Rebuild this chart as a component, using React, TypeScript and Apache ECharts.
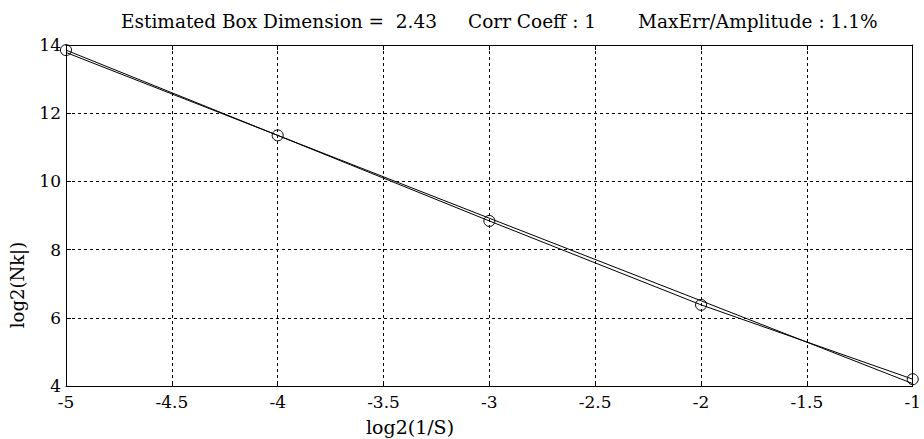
import React, { useEffect, useRef } from "react";
import * as echarts from "echarts";

const xValues = [-5, -4, -3, -2, -1];
const dataY = [13.85, 11.35, 8.84, 6.38, 4.2];
const fitY = [13.78, 11.35, 8.92, 6.5, 4.07];
const titleParts = ["Estimated Box Dimension =  2.43", "Corr Coeff : 1", "MaxErr/Amplitude : 1.1%"];
const xName = "log2(1/S)";
const yName = "log2(Nk|)";

const FONT = "'DejaVu Serif', 'Liberation Serif', serif";

export default function App() {
  const ref = useRef<HTMLDivElement>(null);
  useEffect(() => {
    if (!ref.current) return;
    const chart = echarts.init(ref.current, undefined, { renderer: "svg" });
    const axisLine = { show: true, onZero: false, lineStyle: { color: "#000", width: 1 } };
    const axisTick = { show: true, inside: true, length: 5, lineStyle: { color: "#000" } };
    const split = { show: true, lineStyle: { color: "#000", type: [3, 3] as any, width: 1 } };
    chart.setOption({
      animation: false,
      backgroundColor: "#fff",
      grid: { left: 66, right: 6, top: 45, bottom: 53 },
      xAxis: [
        {
          type: "value", min: -5, max: -1, interval: 0.5, position: "bottom",
          axisLine, axisTick, splitLine: split,
          axisLabel: { color: "#000", fontFamily: FONT, fontSize: 17, margin: 7 },
        },
        {
          type: "value", min: -5, max: -1, interval: 0.5, position: "top",
          axisLine, axisTick, splitLine: { show: false }, axisLabel: { show: false },
        },
      ],
      yAxis: [
        {
          type: "value", min: 4, max: 14, interval: 2, position: "left",
          axisLine, axisTick, splitLine: split,
          axisLabel: { color: "#000", fontFamily: FONT, fontSize: 17, margin: 5 },
        },
        {
          type: "value", min: 4, max: 14, interval: 2, position: "right",
          axisLine, axisTick, splitLine: { show: false }, axisLabel: { show: false },
        },
      ],
      series: [
        {
          type: "line",
          data: xValues.map((x, i) => [x, fitY[i]]),
          showSymbol: false,
          symbol: "none",
          lineStyle: { color: "#000", width: 1 },
          clip: false,
          z: 2,
        },
        {
          type: "line",
          data: xValues.map((x, i) => [x, dataY[i]]),
          symbol: "circle",
          symbolSize: 11,
          itemStyle: { color: "rgba(255,255,255,0)", borderColor: "#000", borderWidth: 1 },
          lineStyle: { color: "#000", width: 1 },
          clip: false,
          z: 3,
        },
      ],
      graphic: [
        { type: "text", left: 121, top: 12, style: { text: titleParts[0], font: `18.5px ${FONT}`, fill: "#000" } },
        { type: "text", left: 468, top: 12, style: { text: titleParts[1], font: `18.5px ${FONT}`, fill: "#000" } },
        { type: "text", left: 638, top: 12, style: { text: titleParts[2], font: `18.5px ${FONT}`, fill: "#000" } },
        {
          type: "text", x: 410, y: 427,
          style: { text: xName, font: `19px ${FONT}`, fill: "#000", align: "center", verticalAlign: "middle" },
        },
        {
          type: "text", x: 17, y: 285, rotation: Math.PI / 2,
          style: { text: yName, font: `18px ${FONT}`, fill: "#000", align: "center", verticalAlign: "middle" },
        },
      ],
    });
    return () => chart.dispose();
  }, []);
  return <div ref={ref} style={{ position: "fixed", left: 0, top: 0, width: 924, height: 439 }} />;
}
